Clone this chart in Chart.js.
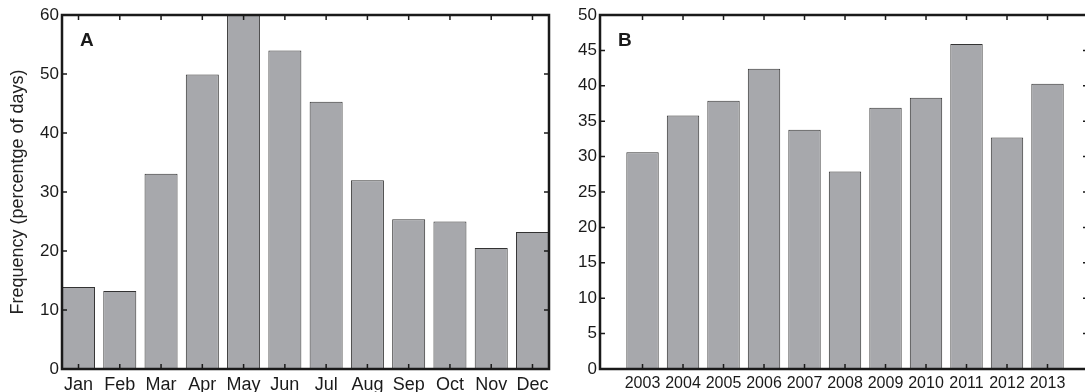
<!DOCTYPE html>
<html>
<head>
<meta charset="utf-8">
<script src="https://cdn.jsdelivr.net/npm/chart.js@4.4.1/dist/chart.umd.min.js"></script>
<style>
  html, body { margin: 0; padding: 0; background: #fff; overflow: hidden; }
  body { width: 1085px; height: 392px; position: relative; }
  canvas { position: absolute; top: 0; }
  #chartA { left: 0; }
  #chartB { left: 555px; }
</style>
</head>
<body>
<canvas id="chartA" width="555" height="392"></canvas>
<canvas id="chartB" width="545" height="392"></canvas>
<script>
// Panel A: frequency by month
const months = ['Jan', 'Feb', 'Mar', 'Apr', 'May', 'Jun', 'Jul', 'Aug', 'Sep', 'Oct', 'Nov', 'Dec'];
const monthFreq = [13.9, 13.2, 33.1, 49.9, 60.5, 54.0, 45.3, 32.0, 25.4, 25.0, 20.5, 23.2];
const monthYTicks = [0, 10, 20, 30, 40, 50, 60];

// Panel B: frequency by year
const years = [2003, 2004, 2005, 2006, 2007, 2008, 2009, 2010, 2011, 2012, 2013];
const yearFreq = [30.6, 35.8, 37.9, 42.4, 33.8, 27.9, 36.9, 38.3, 45.9, 32.7, 40.3];
const yearYTicks = [0, 5, 10, 15, 20, 25, 30, 35, 40, 45, 50];

const FONT = '"Liberation Sans", Arial, Helvetica, sans-serif';
const INK = '#1a1a1a';

// Box frame with inward ticks on all four sides, plus the panel letter
const framePlugin = {
    id: 'frame',
    afterDraw(chart, args, opts) {
        const { ctx, chartArea: a, scales: { x, y } } = chart;
        ctx.save();
        ctx.strokeStyle = INK;
        ctx.lineWidth = 1.5;
        ctx.beginPath();
        x.ticks.forEach(t => {
            const px = x.getPixelForValue(t.value);
            ctx.moveTo(px, a.bottom); ctx.lineTo(px, a.bottom - 5);
            ctx.moveTo(px, a.top); ctx.lineTo(px, a.top + 5);
        });
        y.ticks.forEach(t => {
            const py = y.getPixelForValue(t.value);
            ctx.moveTo(a.left, py); ctx.lineTo(a.left + 5, py);
            ctx.moveTo(a.right, py); ctx.lineTo(a.right - 5, py);
        });
        ctx.stroke();
        ctx.lineWidth = 2.5;
        ctx.strokeRect(a.left, a.top, a.right - a.left, a.bottom - a.top);
        ctx.font = 'bold 19px ' + FONT;
        ctx.fillStyle = INK;
        ctx.textBaseline = 'top';
        ctx.fillText(opts.label, a.left + 18, a.top + 16);
        ctx.restore();
    }
};

const makeChart = (id, cfg) => {
    const ctx = document.getElementById(id).getContext('2d');
    return new Chart(ctx, {
        type: 'bar',
        data: {
            datasets: [{
                data: cfg.xs.map((v, i) => ({ x: v, y: cfg.values[i] })),
                backgroundColor: '#a7a8ac',
                borderColor: '#333333',
                borderWidth: 1,
                categoryPercentage: 1,
                barPercentage: 0.8
            }]
        },
        options: {
            responsive: false,
            animation: false,
            layout: { padding: { top: 15, right: cfg.padRight, left: 0, bottom: 0 } },
            plugins: {
                legend: { display: false },
                tooltip: { enabled: false },
                frame: { label: cfg.panel }
            },
            scales: {
                x: {
                    type: 'linear',
                    offset: false,
                    min: cfg.xMin,
                    max: cfg.xMax,
                    grid: { display: false, drawTicks: false, offset: false },
                    border: { display: false },
                    afterBuildTicks: scale => {
                        scale.ticks = cfg.xs.map(v => ({ value: v }));
                    },
                    afterFit: scale => { scale.height = 23; },
                    ticks: {
                        padding: 5,
                        color: INK,
                        maxRotation: 0,
                        autoSkip: false,
                        font: { family: FONT, size: cfg.xFont },
                        callback: cfg.xLabel
                    }
                },
                y: {
                    min: 0,
                    max: cfg.yTicks[cfg.yTicks.length - 1],
                    grid: { display: false, drawTicks: false },
                    border: { display: false },
                    afterBuildTicks: scale => {
                        scale.ticks = cfg.yTicks.map(v => ({ value: v }));
                    },
                    afterFit: scale => { scale.width = cfg.yWidth; },
                    title: {
                        display: !!cfg.yTitle,
                        text: cfg.yTitle,
                        color: '#222',
                        padding: { top: 7, bottom: 0 },
                        font: { family: FONT, size: 18 }
                    },
                    ticks: {
                        padding: 3,
                        color: INK,
                        font: { family: FONT, size: 17 }
                    }
                }
            }
        },
        plugins: [framePlugin]
    });
};

makeChart('chartA', {
    xs: months.map((m, i) => i + 1),
    values: monthFreq,
    xMin: 0.6,
    xMax: 12.4,
    xLabel: v => months[v - 1],
    xFont: 18,
    yTicks: monthYTicks,
    yWidth: 62,
    yTitle: 'Frequency (percentge of days)',
    padRight: 6,
    panel: 'A'
});

makeChart('chartB', {
    xs: years,
    values: yearFreq,
    xMin: 2001.95,
    xMax: 2014,
    xLabel: v => String(v),
    xFont: 16,
    yTicks: yearYTicks,
    yWidth: 45,
    yTitle: '',
    padRight: 12,
    panel: 'B'
});
</script>
</body>
</html>
